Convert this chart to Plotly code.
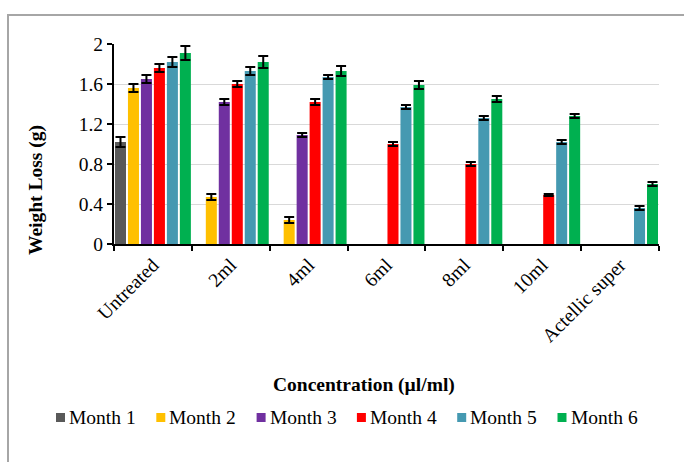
import plotly.graph_objects as go

# Weight loss of stored grain per treatment, recorded monthly
categories = ["Untreated", "2ml", "4ml", "6ml", "8ml", "10ml", "Actellic super"]
months = ["Month 1", "Month 2", "Month 3", "Month 4", "Month 5", "Month 6"]

month1 = [1.02, None, None, None, None, None, None]
month2 = [1.56, 0.47, 0.24, None, None, None, None]
month3 = [1.65, 1.42, 1.09, None, None, None, None]
month4 = [1.76, 1.60, 1.42, 1.00, 0.80, 0.49, None]
month5 = [1.82, 1.73, 1.67, 1.37, 1.26, 1.02, 0.36]
month6 = [1.91, 1.82, 1.73, 1.59, 1.45, 1.28, 0.60]

err1 = [0.05, 0, 0, 0, 0, 0, 0]
err2 = [0.04, 0.03, 0.03, 0, 0, 0, 0]
err3 = [0.04, 0.03, 0.02, 0, 0, 0, 0]
err4 = [0.04, 0.03, 0.03, 0.02, 0.02, 0.01, 0]
err5 = [0.05, 0.04, 0.02, 0.02, 0.02, 0.02, 0.02]
err6 = [0.07, 0.06, 0.05, 0.04, 0.03, 0.02, 0.02]

values = [month1, month2, month3, month4, month5, month6]
errors = [err1, err2, err3, err4, err5, err6]
colors = ["#595959", "#FFC000", "#7030A0", "#FF0000", "#4599B1", "#00B050"]

font_family = "Liberation Serif, Times New Roman, serif"
FS = 19.5

# figure geometry (pixels)
W, H = 684, 462
ML, MR, MT, MB = 114, 25, 44, 218
PW, PH = W - ML - MR, H - MT - MB


def px_x(x):
    return (x - ML) / PW


def px_y(y):
    return (H - MB - y) / PH


fig = go.Figure()
for name, vals, errs, col in zip(months, values, errors, colors):
    err_arr = [e if v is not None else None for v, e in zip(vals, errs)]
    fig.add_trace(go.Bar(
        name=name,
        x=categories,
        y=vals,
        marker=dict(color=col, line=dict(width=0)),
        error_y=dict(type="data", array=err_arr, visible=True,
                     color="black", thickness=2, width=5),
    ))

# legend row below the axis title: colour key squares plus labels
shapes = [
    dict(type="rect", xref="paper", yref="paper",
         x0=px_x(8), x1=px_x(W + 8), y0=px_y(H + 8), y1=px_y(15),
         line=dict(color="#A6A6A6", width=2), fillcolor="rgba(0,0,0,0)",
         layer="below"),
]
annotations = [
    dict(text="<b>Weight Loss (g)</b>", textangle=-90,
         xref="paper", yref="paper", x=px_x(36), y=px_y(190),
         xanchor="center", yanchor="middle", showarrow=False,
         font=dict(size=FS, family=font_family)),
    dict(text="<b>Concentration (µl/ml)</b>",
         xref="paper", yref="paper", x=px_x(364), y=px_y(385),
         xanchor="center", yanchor="middle", showarrow=False,
         font=dict(size=FS, family=font_family)),
]
for i, (name, col) in enumerate(zip(months, colors)):
    x0 = 56 + 100.3 * i
    shapes.append(dict(type="rect", xref="paper", yref="paper",
                       x0=px_x(x0), x1=px_x(x0 + 9),
                       y0=px_y(422), y1=px_y(413),
                       line=dict(width=0), fillcolor=col))
    annotations.append(dict(text=name, xref="paper", yref="paper",
                            x=px_x(x0 + 11), y=px_y(417),
                            xanchor="left", yanchor="middle", showarrow=False,
                            font=dict(size=FS, family=font_family)))

fig.update_layout(
    width=W,
    height=H,
    margin=dict(l=ML, r=MR, t=MT, b=MB),
    paper_bgcolor="white",
    plot_bgcolor="white",
    barmode="group",
    bargap=0,
    bargroupgap=0.15,
    font=dict(family=font_family, size=FS, color="black"),
    showlegend=False,
    xaxis=dict(
        type="category",
        tickson="boundaries",
        ticks="outside",
        ticklen=5,
        tickwidth=2,
        tickcolor="black",
        showline=True,
        linecolor="black",
        linewidth=2,
        tickangle=-45,
        tickfont=dict(size=FS, family=font_family),
        showgrid=False,
    ),
    yaxis=dict(
        range=[0, 2],
        dtick=0.4,
        tick0=0,
        ticks="outside",
        ticklen=5,
        tickwidth=2,
        tickcolor="black",
        showline=True,
        linecolor="black",
        linewidth=2,
        showgrid=True,
        gridcolor="#D9D9D9",
        gridwidth=1,
        zeroline=False,
        tickfont=dict(size=FS, family=font_family),
    ),
    annotations=annotations,
    shapes=shapes,
)

fig.write_html("out.html")
